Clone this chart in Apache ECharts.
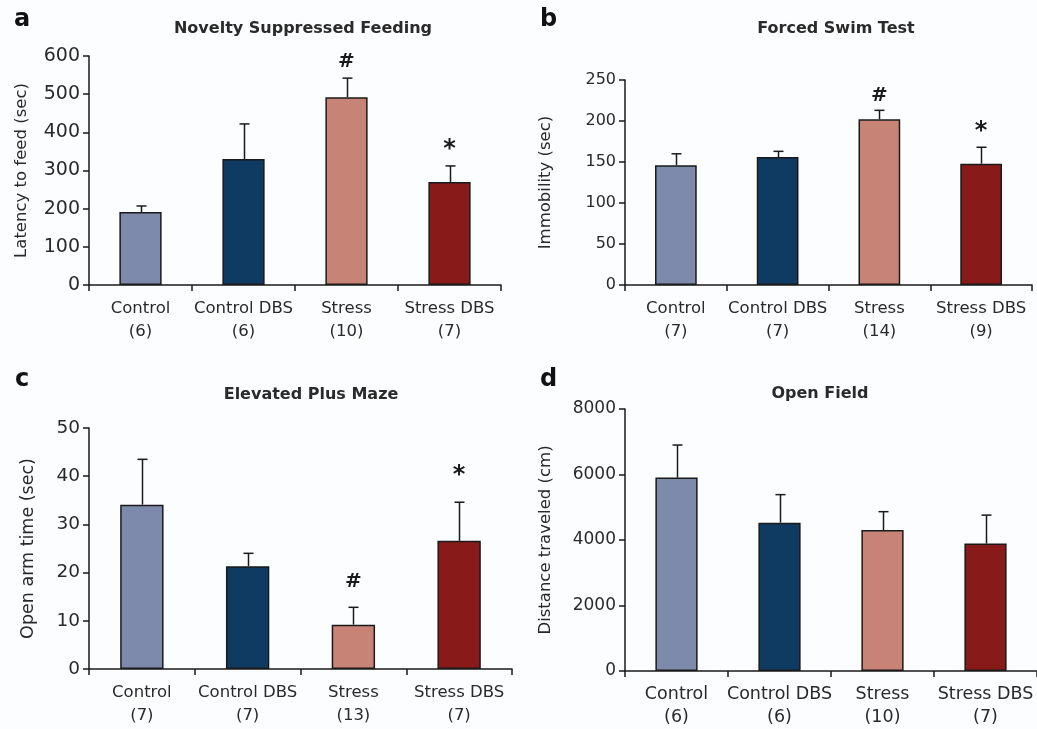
<!DOCTYPE html>
<html>
<head>
<meta charset="utf-8">
<script src="https://cdn.jsdelivr.net/npm/echarts@6/dist/echarts.min.js"></script>
<style>
html,body{margin:0;padding:0;background:#fcfdff;}
#chart{width:1037px;height:729px;}
</style>
</head>
<body>
<div id="chart"></div>
<script>
// ---- data ----
const groups = ['Control', 'Control DBS', 'Stress', 'Stress DBS'];
const colors = ['#7d8aab', '#0f3b62', '#c88377', '#891a1a'];

const nsfN = [6, 6, 10, 7];
const nsfMean = [191, 330, 492, 270];
const nsfErr = [16, 92, 50, 42];
const nsfSig = ['', '', '#', '*'];

const fstN = [7, 7, 14, 9];
const fstMean = [146, 156, 202, 148];
const fstErr = [14, 7, 11, 20];
const fstSig = ['', '', '#', '*'];

const epmN = [7, 7, 13, 7];
const epmMean = [34.1, 21.3, 9.2, 26.6];
const epmErr = [9.4, 2.7, 3.6, 8.0];
const epmSig = ['', '', '#', '*'];

const ofN = [6, 6, 10, 7];
const ofMean = [5905, 4530, 4305, 3890];
const ofErr = [995, 855, 560, 870];
const ofSig = ['', '', '', ''];

const yTicksA = {min: 0, max: 600, interval: 100};
const yTicksB = {min: 0, max: 250, interval: 50};
const yTicksC = {min: 0, max: 50, interval: 10};
const yTicksD = {min: 0, max: 8000, interval: 2000};

const FONT = 'DejaVu Sans';
const TXT = '#2a2a2a';

const panels = [
  {letter: 'a', title: 'Novelty Suppressed Feeding', yName: 'Latency to feed (sec)', n: nsfN, mean: nsfMean, err: nsfErr, sig: nsfSig, ticks: yTicksA,
   grid: {left: 89, top: 56, width: 412, height: 229}, tickFont: 19, catFont: 16.5, nameFont: 16.5, nameGap: 59, sigGap: 16,
   titlePos: [298, 16], letterPos: [9, 3]},
  {letter: 'b', title: 'Forced Swim Test', yName: 'Immobility (sec)', n: fstN, mean: fstMean, err: fstErr, sig: fstSig, ticks: yTicksB,
   grid: {left: 625, top: 80, width: 407, height: 205}, tickFont: 16, catFont: 16.5, nameFont: 16.5, nameGap: 71, sigGap: 15,
   titlePos: [831, 16], letterPos: [535, 3]},
  {letter: 'c', title: 'Elevated Plus Maze', yName: 'Open arm time (sec)', n: epmN, mean: epmMean, err: epmErr, sig: epmSig, ticks: yTicksC,
   grid: {left: 89, top: 428, width: 423, height: 241}, tickFont: 18.5, catFont: 16.5, nameFont: 17.5, nameGap: 52, sigGap: 26,
   titlePos: [306, 382], letterPos: [10, 363]},
  {letter: 'd', title: 'Open Field', yName: 'Distance traveled (cm)', n: ofN, mean: ofMean, err: ofErr, sig: ofSig, ticks: yTicksD,
   grid: {left: 625, top: 409, width: 415, height: 262}, tickFont: 17, catFont: 17.5, nameFont: 16.5, nameGap: 71, sigGap: 16,
   titlePos: [815, 381], letterPos: [535, 363]}
];

const option = {
  backgroundColor: '#fcfdff',
  animation: false,
  title: [],
  grid: [],
  xAxis: [],
  yAxis: [],
  series: []
};

panels.forEach((p, k) => {
  option.title.push({
    text: p.title, left: p.titlePos[0], top: p.titlePos[1], textAlign: 'center',
    textStyle: {fontFamily: FONT, fontWeight: 'bold', fontSize: 16, color: TXT}
  });
  option.title.push({
    text: p.letter, left: p.letterPos[0], top: p.letterPos[1],
    textStyle: {fontFamily: FONT, fontWeight: 'bold', fontSize: 24, color: '#111'}
  });
  option.grid.push(Object.assign({containLabel: false}, p.grid));
  option.xAxis.push({
    type: 'category', gridIndex: k,
    data: groups.map((g, i) => g + '\n(' + p.n[i] + ')'),
    axisLine: {lineStyle: {color: '#1a1a1a', width: 1.5}},
    axisTick: {show: true, length: 6, lineStyle: {color: '#1a1a1a', width: 1.5}},
    axisLabel: {fontFamily: FONT, fontSize: p.catFont, color: TXT, margin: 12, lineHeight: 23, interval: 0}
  });
  option.yAxis.push({
    type: 'value', gridIndex: k, min: p.ticks.min, max: p.ticks.max, interval: p.ticks.interval,
    name: p.yName, nameLocation: 'middle', nameGap: p.nameGap, nameRotate: 90,
    nameTextStyle: {fontFamily: FONT, fontSize: p.nameFont, color: TXT},
    axisLine: {show: true, lineStyle: {color: '#1a1a1a', width: 1.5}},
    axisTick: {show: true, length: 6, lineStyle: {color: '#1a1a1a', width: 1.5}},
    axisLabel: {fontFamily: FONT, fontSize: p.tickFont, color: TXT, margin: 9, formatter: v => String(v)},
    splitLine: {show: false}
  });
  option.series.push({
    type: 'bar', xAxisIndex: k, yAxisIndex: k, barWidth: '41%',
    data: p.mean.map((v, i) => ({value: v, itemStyle: {color: colors[i]}})),
    itemStyle: {borderColor: '#1a1a1a', borderWidth: 1.5},
    z: 2
  });
  option.series.push({
    type: 'custom', xAxisIndex: k, yAxisIndex: k, z: 1,
    data: p.mean.map((v, i) => [i, v, v + p.err[i]]),
    renderItem: function (params, api) {
      const base = api.coord([api.value(0), api.value(1)]);
      const top = api.coord([api.value(0), api.value(2)]);
      const x = Math.round(base[0]) + 0.5;
      const hw = 5;
      return {
        type: 'group',
        children: [
          {type: 'line', shape: {x1: x, y1: base[1], x2: x, y2: top[1]}, style: {stroke: '#1a1a1a', lineWidth: 1.5}},
          {type: 'line', shape: {x1: x - hw, y1: top[1], x2: x + hw, y2: top[1]}, style: {stroke: '#1a1a1a', lineWidth: 1.5}}
        ]
      };
    }
  });
  const gap = p.sigGap;
  option.series.push({
    type: 'custom', xAxisIndex: k, yAxisIndex: k, z: 3,
    data: p.mean.map((v, i) => [i, v + p.err[i], p.sig[i]]),
    renderItem: function (params, api) {
      const i = params.dataIndex;
      const s = p.sig[i];
      if (!s) return null;
      const pt = api.coord([api.value(0), api.value(1)]);
      return {
        type: 'text',
        style: {
          text: s, x: pt[0], y: pt[1] - gap, align: 'center', verticalAlign: 'middle',
          font: 'bold ' + (s === '*' ? 24 : 20) + 'px ' + FONT, fill: '#1a1a1a'
        }
      };
    }
  });
});

const chart = echarts.init(document.getElementById('chart'));
chart.setOption(option);
</script>
</body>
</html>
